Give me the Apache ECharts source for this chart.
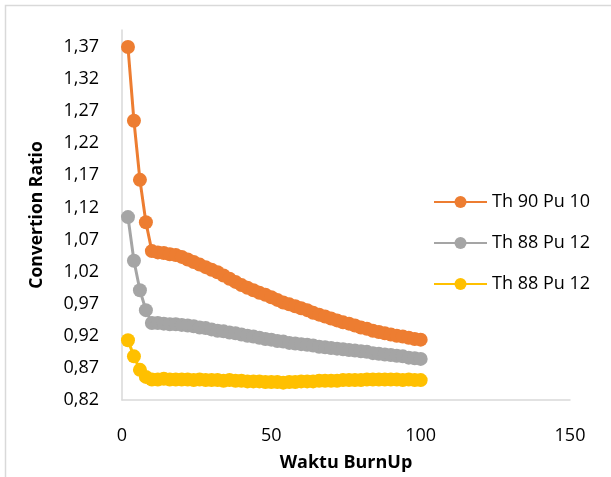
<!DOCTYPE html>
<html>
<head>
<meta charset="utf-8">
<script src="https://cdn.jsdelivr.net/npm/echarts@6/dist/echarts.min.js"></script>
<style>
html,body{margin:0;padding:0;background:#fff;}
#chart{width:611px;height:477px;}
</style>
</head>
<body>
<div id="chart"></div>
<script>
const burnup = [2,4,6,8,10,12,14,16,18,20,22,24,26,28,30,32,34,36,38,40,42,44,46,48,50,52,54,56,58,60,62,64,66,68,70,72,74,76,78,80,82,84,86,88,90,92,94,96,98,100];

const th90pu10 = [1.370,1.255,1.163,1.097,1.052,1.050,1.049,1.047,1.046,1.043,1.039,1.035,1.031,1.027,1.023,1.019,1.014,1.009,1.004,0.999,0.995,0.991,0.987,0.984,0.980,0.976,0.972,0.969,0.966,0.963,0.960,0.956,0.953,0.950,0.947,0.944,0.941,0.939,0.936,0.933,0.931,0.928,0.926,0.924,0.922,0.920,0.919,0.917,0.915,0.914];

const th88pu12a = [1.105,1.037,0.991,0.960,0.940,0.940,0.939,0.938,0.938,0.937,0.936,0.935,0.933,0.932,0.930,0.928,0.927,0.925,0.924,0.922,0.920,0.919,0.917,0.915,0.914,0.912,0.911,0.909,0.908,0.907,0.906,0.905,0.903,0.902,0.901,0.900,0.899,0.898,0.897,0.896,0.895,0.893,0.892,0.891,0.890,0.889,0.888,0.886,0.885,0.884];

const th88pu12b = [0.913,0.888,0.867,0.856,0.852,0.852,0.853,0.852,0.852,0.852,0.852,0.851,0.852,0.851,0.851,0.851,0.850,0.851,0.850,0.850,0.849,0.849,0.849,0.848,0.848,0.848,0.847,0.848,0.848,0.849,0.849,0.849,0.850,0.850,0.850,0.850,0.851,0.851,0.851,0.851,0.852,0.852,0.852,0.852,0.852,0.852,0.851,0.852,0.851,0.851];

const seriesNames = ['Th 90 Pu 10','Th 88 Pu 12','Th 88 Pu 12'];
const yTicks = [0.82,0.87,0.92,0.97,1.02,1.07,1.12,1.17,1.22,1.27,1.32,1.37];
const xTicks = [0,50,100,150];

const colors = ['#ED7D31','#A5A5A5','#FFC000'];
const FONT = 'Open Sans';

function pairs(ys){ return burnup.map((x,i)=>[x,ys[i]]); }

// legend keys must be unique; display text is the plain series name
const legendKeys = seriesNames.map((n,i)=>n + ' '.repeat(i));

const chart = echarts.init(document.getElementById('chart'), null, {renderer:'canvas'});
const mk = (key, ys, c) => ({
  name: key,
  type: 'line',
  data: pairs(ys),
  symbol: 'circle',
  symbolSize: 14,
  showSymbol: true,
  lineStyle: {color: c, width: 3},
  itemStyle: {color: c},
  emphasis: {disabled: true},
  animation: false
});

chart.setOption({
  animation: false,
  backgroundColor: '#ffffff',
  graphic: [{
    type: 'rect',
    shape: {x: 5.5, y: 5.5, width: 800, height: 800},
    style: {fill: 'none', stroke: '#d9d9d9', lineWidth: 1.5},
    silent: true
  }],
  grid: {left: 122, top: 30, right: 41, bottom: 77, containLabel: false},
  legend: {
    orient: 'vertical',
    left: 428,
    top: 188,
    itemWidth: 53,
    itemHeight: 15,
    itemGap: 23,
    data: legendKeys,
    formatter: n => n.trim(),
    textStyle: {fontFamily: FONT, fontSize: 18, color: '#000', lineHeight: 18},
    selectedMode: false
  },
  xAxis: {
    type: 'value',
    min: 0, max: 150, interval: 50,
    name: 'Waktu BurnUp',
    nameLocation: 'middle',
    nameGap: 54,
    nameTextStyle: {fontFamily: FONT, fontSize: 18, fontWeight: 'bold', color: '#000'},
    axisLine: {show: true, lineStyle: {color: '#d9d9d9', width: 1.5}},
    axisTick: {show: false},
    splitLine: {show: false},
    axisLabel: {fontFamily: FONT, fontSize: 18, color: '#000', margin: 27,
      customValues: xTicks}
  },
  yAxis: {
    type: 'value',
    min: 0.82, max: 1.3965,
    name: 'Convertion Ratio',
    nameLocation: 'middle',
    nameGap: 76,
    nameTextStyle: {fontFamily: FONT, fontSize: 17.5, fontWeight: 'bold', color: '#000'},
    axisLine: {show: true, lineStyle: {color: '#d9d9d9', width: 1.5}},
    axisTick: {show: false},
    splitLine: {show: false},
    axisLabel: {fontFamily: FONT, fontSize: 18, color: '#000', margin: 23,
      customValues: yTicks,
      formatter: v => v.toFixed(2).replace('.', ',')}
  },
  series: [
    mk(legendKeys[0], th90pu10, colors[0]),
    mk(legendKeys[1], th88pu12a, colors[1]),
    mk(legendKeys[2], th88pu12b, colors[2])
  ]
});
</script>
</body>
</html>
